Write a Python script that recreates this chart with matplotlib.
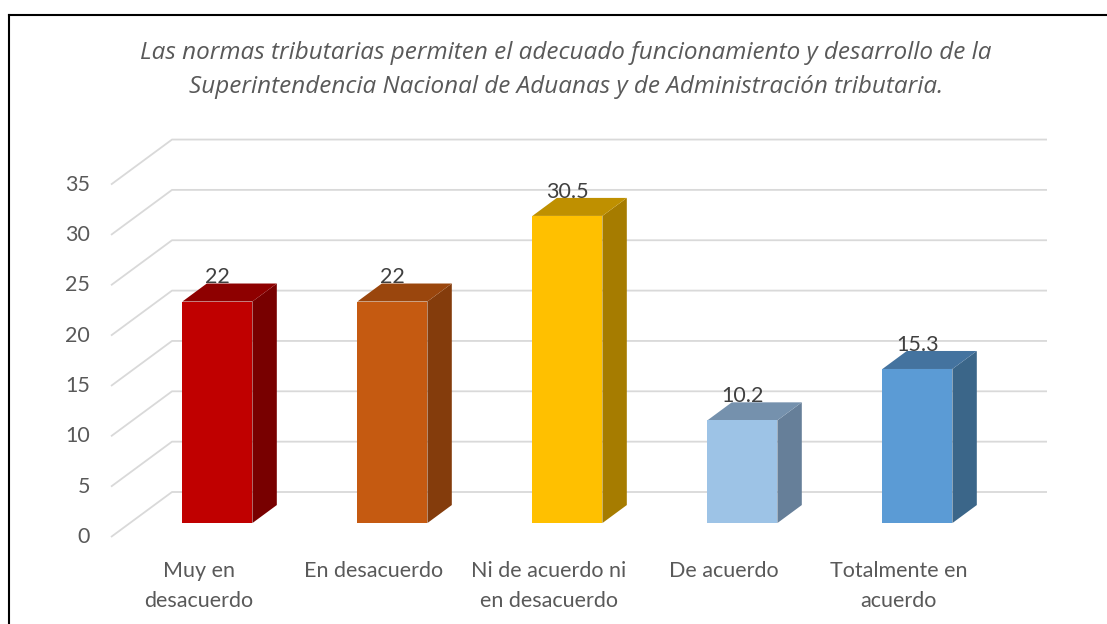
import numpy as np
import matplotlib
matplotlib.use("Agg")
from matplotlib import pyplot as plt
from matplotlib.patches import Polygon
from matplotlib.lines import Line2D

# ---- data ----
categories = ["Muy en\ndesacuerdo", "En desacuerdo", "Ni de acuerdo ni\nen desacuerdo",
              "De acuerdo", "Totalmente en\nacuerdo"]
values = [22, 22, 30.5, 10.2, 15.3]
value_labels = ["22", "22", "30.5", "10.2", "15.3"]
yticks = [0, 5, 10, 15, 20, 25, 30, 35]
title = ("Las normas tributarias permiten el adecuado funcionamiento y desarrollo de la\n"
         "Superintendencia Nacional de Aduanas y de Administración tributaria.")

front_colors = ["#C00000", "#C55A11", "#FFC000", "#9DC3E6", "#5B9BD5"]
top_colors = ["#8E0000", "#9A460D", "#BF9000", "#7591AD", "#44739F"]
side_colors = ["#780000", "#843C0C", "#A67C00", "#667F99", "#3B6689"]

# ---- layout (pixel based) ----
W, H = 1107, 624
PX_CAT = 175.0      # pixels per category
PX_VAL = 10.07      # pixels per value unit
X0, Y0 = 111, 537   # pixel of front-left floor corner
DX = 61 / PX_CAT    # oblique depth offset, category units
DY = 45 / PX_VAL    # oblique depth offset, value units
HW = 0.2            # half bar width
D0, D1 = 0.31, 0.71  # bar depth range

def proj(x, v, d):
    return (x + d * DX, v + d * DY)

fig = plt.figure(figsize=(W / 100, H / 100), dpi=100)
ax = fig.add_axes([0, 0, 1, 1])
ax.set_xlim(-0.5 - X0 / PX_CAT, -0.5 + (W - X0) / PX_CAT)
ax.set_ylim(-(H - Y0) / PX_VAL, Y0 / PX_VAL)
ax.axis("off")

n = len(categories)
grid_c = "#d9d9d9"
for g in yticks:
    a = proj(-0.5, g, 0)
    b = proj(-0.5, g, 1)
    c = proj(n - 0.5, g, 1)
    ax.plot([a[0], b[0], c[0]], [a[1], b[1], c[1]], color=grid_c, lw=1.3, zorder=1,
            solid_capstyle="butt")

for i, v in enumerate(values):
    front = [proj(i - HW, 0, D0), proj(i + HW, 0, D0), proj(i + HW, v, D0), proj(i - HW, v, D0)]
    side = [proj(i + HW, 0, D0), proj(i + HW, 0, D1), proj(i + HW, v, D1), proj(i + HW, v, D0)]
    top = [proj(i - HW, v, D0), proj(i + HW, v, D0), proj(i + HW, v, D1), proj(i - HW, v, D1)]
    ax.add_patch(Polygon(side, closed=True, facecolor=side_colors[i], edgecolor="none", zorder=3))
    ax.add_patch(Polygon(top, closed=True, facecolor=top_colors[i], edgecolor="none", zorder=3))
    ax.add_patch(Polygon(front, closed=True, facecolor=front_colors[i], edgecolor="none", zorder=4))
    lx, ly = proj(i, v, D0)
    ax.text(lx, ly + 2.4, value_labels[i], ha="center", va="center", fontsize=15.5,
            color="#404040", family="Lato", zorder=5)

for t in yticks:
    x, y = proj(-0.5, t, 0)
    ax.text(x - 21 / PX_CAT, y, str(t), ha="right", va="center", fontsize=15.5,
            color="#595959", family="Lato")

for i, lab in enumerate(categories):
    ax.text(i, -(561 - Y0) / PX_VAL, lab, ha="center", va="top", fontsize=15.5,
            color="#595959", family="Lato", linespacing=1.6)

fig.text(566 / W, 1 - 70 / H, title, ha="center", va="center", fontsize=17.5,
         style="italic", color="#595959", family="Open Sans", linespacing=1.6)

# chart border
fig.add_artist(Line2D([8.5 / W, 8.5 / W], [0, 1 - 14.5 / H], color="black", lw=1.5,
                      transform=fig.transFigure))
fig.add_artist(Line2D([8.5 / W, 1], [1 - 14.5 / H, 1 - 14.5 / H], color="black", lw=1.5,
                      transform=fig.transFigure))

fig.savefig("out.png", dpi=100, facecolor="white")
